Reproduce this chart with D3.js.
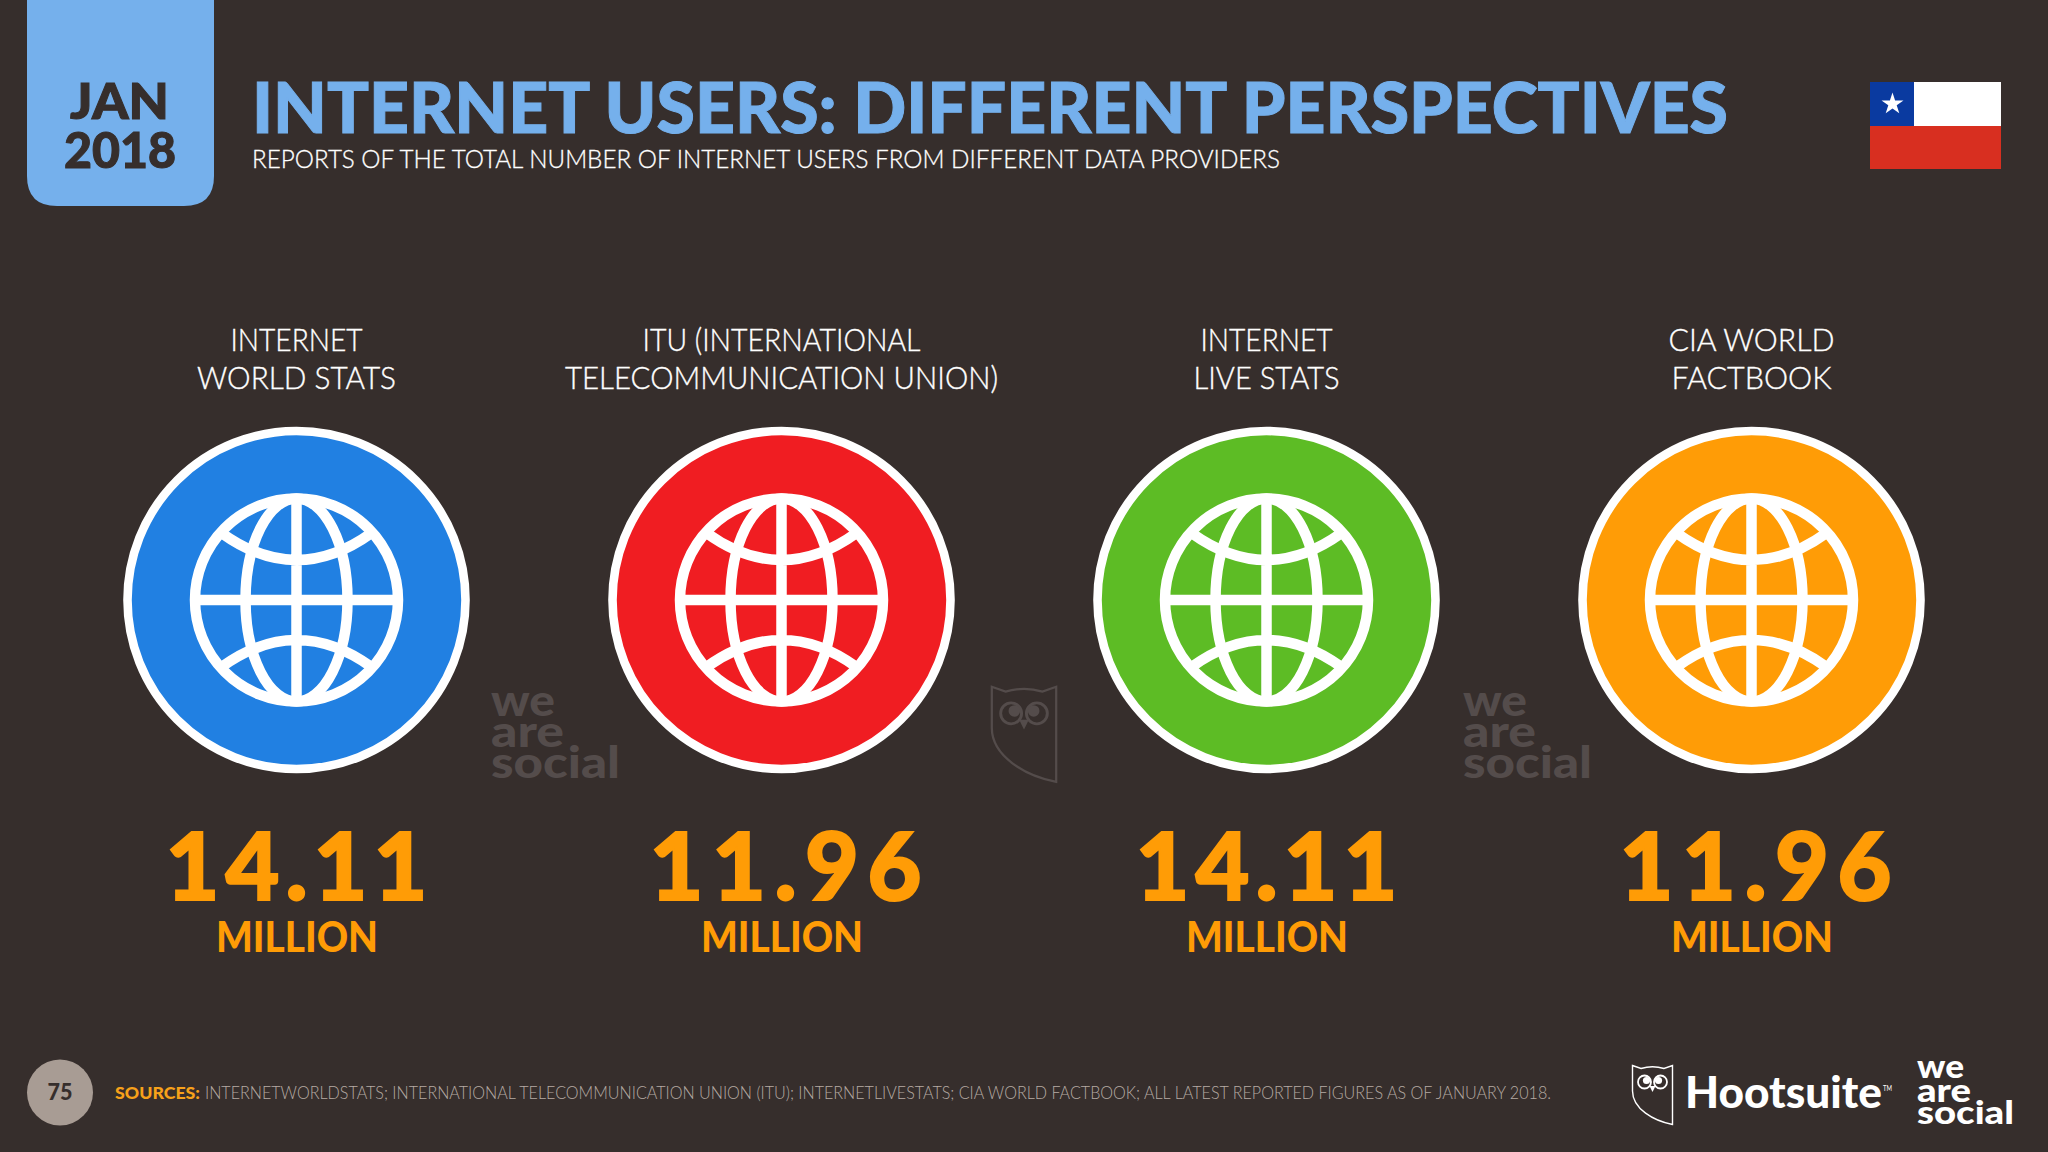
<!DOCTYPE html>
<html lang="en">
<head>
<meta charset="UTF-8">
<title>Internet users: different perspectives</title>
<style>
  html, body { margin: 0; padding: 0; background: #362e2c; }
  svg { display: block; }
  text { font-family: Lato, "Open Sans", sans-serif; }
</style>
</head>
<body>
<script src="https://cdn.jsdelivr.net/npm/d3@7"></script>
<script>
// data
var providers = ['INTERNET WORLD STATS', 'ITU', 'INTERNET LIVE STATS', 'CIA WORLD FACTBOOK']
var labelLine1 = ['INTERNET', 'ITU (INTERNATIONAL', 'INTERNET', 'CIA WORLD']
var labelLine2 = ['WORLD STATS', 'TELECOMMUNICATION UNION)', 'LIVE STATS', 'FACTBOOK']
var usersMillions = [14.11, 11.96, 14.11, 11.96]
var circleColors = ['#2180e2', '#f01d22', '#5dbc25', '#ff9c06']

var width = 2048, height = 1152
var bg = '#362e2c', orange = '#ff9c06', sky = '#75b0ec', ghost = '#544c4b'

var svg = d3.select('body').append('svg')
    .attr('width', width)
    .attr('height', height)

var x = d3.scalePoint().domain(providers).range([296.5, 1751.5])
var fmt = d3.format('.2f')

// text squeezed to the width measured on the picture
function label(g, str, px, py, size, weight, color, len, anchor) {
    return g.append('text')
        .attr('x', px).attr('y', py)
        .attr('text-anchor', anchor || 'start')
        .attr('font-size', size)
        .attr('font-weight', weight)
        .attr('fill', color)
        .attr('textLength', len)
        .attr('lengthAdjust', 'spacingAndGlyphs')
        .text(str)
}

// Lato is a bit lighter than the original face
function heavy(t, color, w) {
    return t.attr('stroke', color).attr('stroke-width', w)
}

// header
svg.append('path')
    .attr('fill', sky)
    .attr('d', 'M27,0H214V176Q214,206 184,206H57Q27,206 27,176Z')
heavy(label(svg, 'JAN', 119.5, 119, 50, 900, bg, 99, 'middle'), bg, 1)
heavy(label(svg, '2018', 120, 168, 50, 900, bg, 112, 'middle'), bg, 1)
heavy(label(svg, 'INTERNET USERS: DIFFERENT PERSPECTIVES', 252, 133, 71, 900, sky, 1476), sky, 1)
heavy(label(svg, 'REPORTS OF THE TOTAL NUMBER OF INTERNET USERS FROM DIFFERENT DATA PROVIDERS', 252, 168, 25, 300, '#ffffff', 1028), '#ffffff', 0.3)

// flag
var flag = svg.append('g')
flag.append('rect').attr('x', 1870).attr('y', 82).attr('width', 131).attr('height', 44).attr('fill', '#ffffff')
flag.append('rect').attr('x', 1870).attr('y', 126).attr('width', 131).attr('height', 43).attr('fill', '#d82f20')
flag.append('rect').attr('x', 1870).attr('y', 82).attr('width', 44).attr('height', 44).attr('fill', '#0a3aa0')
flag.append('path')
    .attr('transform', 'translate(1892.5,104)')
    .attr('fill', '#ffffff')
    .attr('d', d3.symbol(d3.symbolStar, 150)())

// owl outline, local box 41 x 60
function owl(g, tx, ty, scale, color) {
    var o = g.append('g').attr('transform', 'translate(' + tx + ',' + ty + ') scale(' + scale + ')')
    o.append('path')
        .attr('fill', 'none').attr('stroke', color).attr('stroke-width', 1.4)
        .attr('d', 'M0.5,0.5 L9,3.5 Q20.5,0 32,3.5 L40.5,0.5 V59.5 C22,56 0.5,44 0.5,26 Z')
    o.selectAll('circle.eye').data([12.5, 28.5]).enter().append('circle')
        .attr('class', 'eye')
        .attr('cx', function (d) { return d })
        .attr('cy', 17).attr('r', 6.5)
        .attr('fill', 'none').attr('stroke', color).attr('stroke-width', 1.8)
    o.selectAll('circle.pupil').data([14.5, 26.5]).enter().append('circle')
        .attr('class', 'pupil')
        .attr('cx', function (d) { return d })
        .attr('cy', 15.5).attr('r', 3.6)
        .attr('fill', color)
    o.append('path').attr('fill', color).attr('d', 'M17.5,21 H23.5 L20.5,27 Z')
}

function weAreSocial(g, tx, size, bases, lens, color) {
    ['we', 'are', 'social'].forEach(function (w, i) {
        label(g, w, tx, bases[i], size, 900, color, lens[i])
    })
}

// watermarks
weAreSocial(svg, 491, 44, [716, 747, 778], [64, 73, 129], ghost)
weAreSocial(svg, 1463, 44, [716, 747, 778], [64, 73, 129], ghost)
owl(svg, 991, 686, 1.61, ghost)

// provider columns
var col = svg.selectAll('.col')
    .data(providers)
    .enter().append('g')
    .attr('class', 'col')
    .attr('transform', function (d) { return 'translate(' + x(d) + ',0)' })

var line1Len = [132, 278, 132, 166]
var line2Len = [199, 433, 146, 160]
col.each(function (d, i) {
    var g = d3.select(this)
    heavy(label(g, labelLine1[i], 0, 351, 31, 300, '#ffffff', line1Len[i], 'middle'), '#ffffff', 0.35)
    heavy(label(g, labelLine2[i], 0, 389, 31, 300, '#ffffff', line2Len[i], 'middle'), '#ffffff', 0.35)
})

col.append('circle')
    .attr('cy', 600).attr('r', 169)
    .attr('fill', function (d, i) { return circleColors[i] })
    .attr('stroke', '#ffffff').attr('stroke-width', 8.6)

// globe icon
var globeR = 101.5
var latArc = d3.path()
latArc.moveTo(-75, -67); latArc.quadraticCurveTo(0, -13, 75, -67)
latArc.moveTo(-75, 67); latArc.quadraticCurveTo(0, 13, 75, 67)
latArc.moveTo(0, -globeR); latArc.lineTo(0, globeR)
latArc.moveTo(-globeR, 0); latArc.lineTo(globeR, 0)

var globe = col.append('g')
    .attr('transform', 'translate(0,600)')
    .attr('fill', 'none').attr('stroke', '#ffffff').attr('stroke-width', 10.5)
globe.append('circle').attr('r', globeR)
globe.append('ellipse').attr('rx', 51).attr('ry', globeR)
globe.append('path').attr('d', latArc.toString())

var valueLen = [262, 272, 262, 272]
var valueDx = [0, 4, 0, 4]
col.each(function (d, i) {
    var g = d3.select(this)
    var t = label(g, fmt(usersMillions[i]), valueDx[i], 900, 93, 900, orange, valueLen[i], 'middle')
        .attr('lengthAdjust', 'spacing')
    heavy(t, orange, 2)
    label(g, 'MILLION', 0.5, 952, 42, 900, orange, 162, 'middle')
})

// footer
svg.append('circle').attr('cx', 60).attr('cy', 1092.5).attr('r', 33).attr('fill', '#a89c94')
label(svg, '75', 60, 1099.5, 22, 900, bg, 25, 'middle')
label(svg, 'SOURCES:', 115, 1098.5, 17, 900, '#f7a11a', 85)
label(svg, 'INTERNETWORLDSTATS; INTERNATIONAL TELECOMMUNICATION UNION (ITU); INTERNETLIVESTATS; CIA WORLD FACTBOOK; ALL LATEST REPORTED FIGURES AS OF JANUARY 2018.',
    205, 1098.5, 17, 300, '#b5aaa3', 1346)

owl(svg, 1632, 1065, 1, '#ffffff')
label(svg, 'Hootsuite', 1685, 1108, 43, 900, '#ffffff', 197)
label(svg, 'TM', 1883, 1091, 7, 400, '#ffffff', 9)
weAreSocial(svg, 1917, 33, [1078, 1102, 1124], [47, 54, 97], '#ffffff')
</script>
</body>
</html>
